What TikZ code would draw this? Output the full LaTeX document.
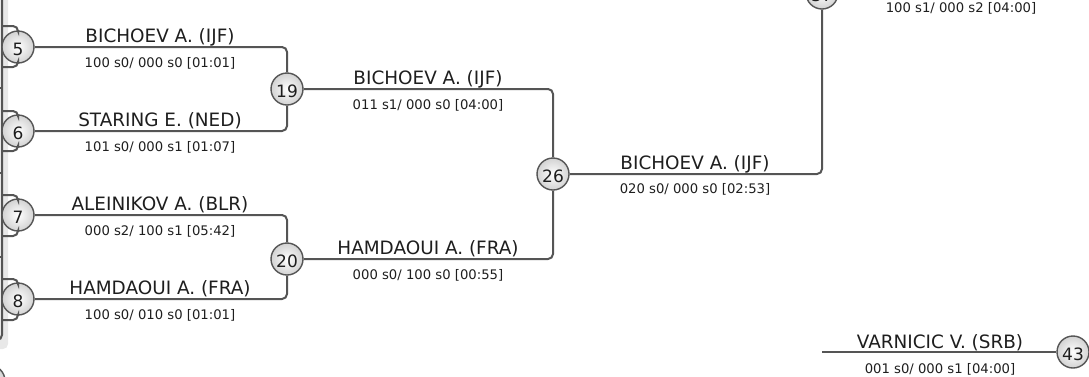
\documentclass[tikz,border=0pt]{standalone}
\usepackage{fontspec}
\setmainfont{DejaVu Sans}
\definecolor{wiregray}{HTML}{555555}
\definecolor{textgray}{HTML}{1E1E1E}
\begin{document}
\begin{tikzpicture}[
    x=1pt, y=-1pt,
    match/.style={
        circle,
        draw=wiregray,
        line width=1.4pt,
        inner color=white,
        outer color=gray!35,
        minimum size=32pt,
        inner sep=0pt,
        text height=16pt,
        text depth=0pt,
        text=textgray,
        font=\fontsize{17}{17}\selectfont
    },
    player/.style={
        anchor=base,
        inner sep=0pt,
        text=textgray,
        font=\fontsize{18.4}{20}\selectfont
    },
    score/.style={
        anchor=base,
        inner sep=0pt,
        text=textgray,
        font=\fontsize{13.2}{14}\selectfont
    },
    wire/.style={
        draw=wiregray,
        line width=2pt,
        rounded corners=5pt
    }
]

\useasboundingbox (0,0) rectangle (1089,376);
\clip (0,0) rectangle (1089,376);

% Borde del bloque anterior
\fill[gray!18, rounded corners=5pt] (-20,-20) rectangle (8,349);
\draw[wire] (2,-20) -- (2,340) -- (-20,340);
\draw[wire] (-5,88) -- (2,88);
\draw[wire] (-5,173) -- (2,173);
\draw[wire] (-5,257) -- (2,257);

% Combates
\node[match] (m5)  at (18,47)   {5};
\node[match] (m6)  at (18,131)  {6};
\node[match] (m7)  at (18,215)  {7};
\node[match] (m8)  at (18,299)  {8};
\node[match] (m19) at (287,89)  {19};
\node[match] (m20) at (287,259) {20};
\node[match] (m26) at (553,174) {26};
\node[match] (m37) at (822,-7)  {37};
\node[match] (m43) at (1073,352) {43};
\node[match] (m0)  at (-11,381) {};

% Entradas desde la izquierda
\coordinate (in5a) at (3,26);
\coordinate (in5b) at (3,67);
\coordinate (in6a) at (3,111);
\coordinate (in6b) at (3,151);
\coordinate (in7a) at (3,195);
\coordinate (in7b) at (3,236);
\coordinate (in8a) at (3,279);
\coordinate (in8b) at (3,320);
\draw[wire] (in5a) -| (m5.north);
\draw[wire] (in5b) -| (m5.south);
\draw[wire] (in6a) -| (m6.north);
\draw[wire] (in6b) -| (m6.south);
\draw[wire] (in7a) -| (m7.north);
\draw[wire] (in7b) -| (m7.south);
\draw[wire] (in8a) -| (m8.north);
\draw[wire] (in8b) -| (m8.south);

% Conexiones
\draw[wire] (m5.east) -| (m19.north);
\draw[wire] (m6.east) -| (m19.south);
\draw[wire] (m7.east) -| (m20.north);
\draw[wire] (m8.east) -| (m20.south);
\draw[wire] (m19.east) -| (m26.north);
\draw[wire] (m20.east) -| (m26.south);
\draw[wire] (m26.east) -| (m37.south);
\draw[wire] (m37.east) -- ++(260,0);
\coordinate (rep43) at (822,352);
\draw[wire] (rep43) -- (m43.west);

% Nombres y resultados
\node[player] (p5) at (160,42) {BICHOEV A. (IJF)};
\node[score]  (s5) at (160,67) {100 s0/ 000 s0 [01:01]};
\node[player] (p6) at (160,126) {STARING E. (NED)};
\node[score]  (s6) at (160,151) {101 s0/ 000 s1 [01:07]};
\node[player] (p7) at (160,210) {ALEINIKOV A. (BLR)};
\node[score]  (s7) at (160,235) {000 s2/ 100 s1 [05:42]};
\node[player] (p8) at (160,294) {HAMDAOUI A. (FRA)};
\node[score]  (s8) at (160,319) {100 s0/ 010 s0 [01:01]};
\node[player] (p19) at (428,84) {BICHOEV A. (IJF)};
\node[score]  (s19) at (428,109) {011 s1/ 000 s0 [04:00]};
\node[player] (p20) at (428,254) {HAMDAOUI A. (FRA)};
\node[score]  (s20) at (428,279) {000 s0/ 100 s0 [00:55]};
\node[player] (p26) at (695,169) {BICHOEV A. (IJF)};
\node[score]  (s26) at (695,193) {020 s0/ 000 s0 [02:53]};
\node[score]  (s37) at (961,12) {100 s1/ 000 s2 [04:00]};
\node[player] (p43) at (940,348) {VARNICIC V. (SRB)};
\node[score]  (s43) at (940,373) {001 s0/ 000 s1 [04:00]};

\end{tikzpicture}
\end{document}
